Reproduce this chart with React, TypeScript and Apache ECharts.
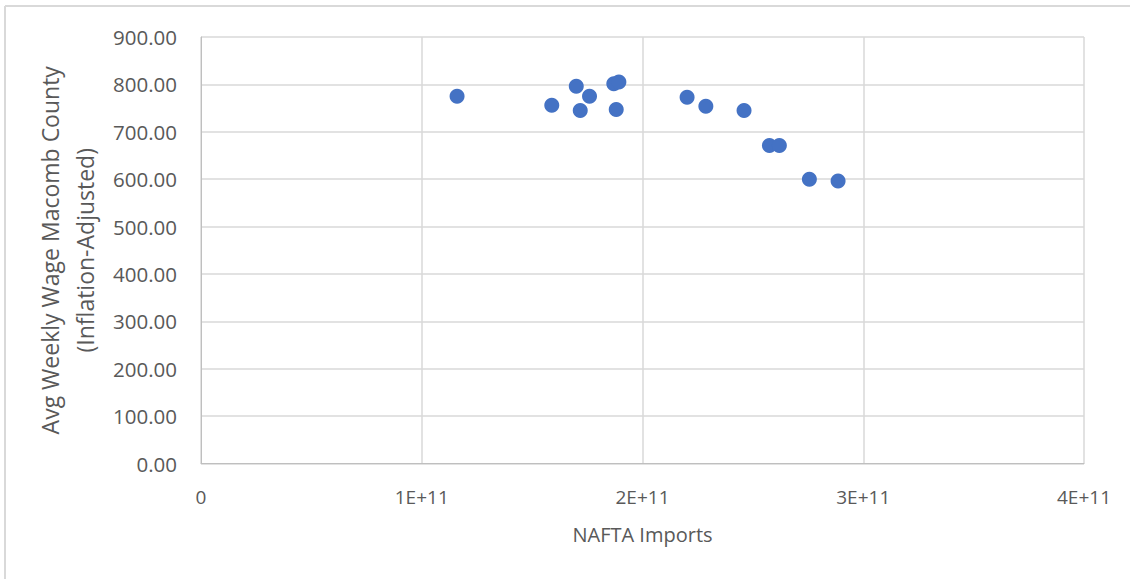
import React, { useEffect, useRef } from "react";
import * as echarts from "echarts";

const naftaImports: number[] = [
  1.16e11, 1.589e11, 1.70e11, 1.718e11, 1.76e11, 1.87e11, 1.893e11, 1.881e11,
  2.202e11, 2.287e11, 2.46e11, 2.575e11, 2.62e11, 2.756e11, 2.886e11,
];
const weeklyWage: number[] = [
  775, 756, 796, 745, 775, 801.6, 805, 747,
  773, 754, 745, 671, 671, 600, 596,
];
const xTickLabels: Record<string, string> = {
  "0": "0",
  "100000000000": "1E+11",
  "200000000000": "2E+11",
  "300000000000": "3E+11",
  "400000000000": "4E+11",
};

export default function App() {
  const ref = useRef<HTMLDivElement>(null);
  useEffect(() => {
    if (!ref.current) return;
    const chart = echarts.init(ref.current, null, { renderer: "svg" });
    const font = "'Open Sans', 'Noto Sans', sans-serif";
    chart.setOption({
      animation: false,
      backgroundColor: "#ffffff",
      grid: { left: 201, top: 37, right: 46, bottom: 115.5, containLabel: false },
      graphic: [
        { type: "line", shape: { x1: 5, y1: 6, x2: 1130, y2: 6 }, style: { stroke: "#d9d9d9", lineWidth: 2 } },
        { type: "line", shape: { x1: 5, y1: 6, x2: 5, y2: 579 }, style: { stroke: "#d9d9d9", lineWidth: 2 } },
      ],
      xAxis: {
        type: "value",
        min: 0,
        max: 4e11,
        interval: 1e11,
        name: "NAFTA Imports",
        nameLocation: "middle",
        nameGap: 61,
        nameTextStyle: { fontFamily: font, fontSize: 20, color: "#595959" },
        axisLine: { show: true, lineStyle: { color: "#bfbfbf", width: 1 } },
        axisTick: { show: false },
        axisLabel: {
          fontFamily: font,
          fontSize: 19,
          color: "#595959",
          margin: 24,
          formatter: (v: number) => xTickLabels[String(v)] ?? String(v),
        },
        splitLine: { show: true, lineStyle: { color: "#d9d9d9", width: 1.5 } },
      },
      yAxis: {
        type: "value",
        min: 0,
        max: 900,
        interval: 100,
        name: "Avg Weekly Wage Macomb County\n(Inflation-Adjusted)",
        nameLocation: "middle",
        nameGap: 96,
        nameRotate: 90,
        nameTextStyle: { fontFamily: font, fontSize: 23, color: "#595959", lineHeight: 35 },
        axisLine: { show: true, lineStyle: { color: "#bfbfbf", width: 1 } },
        axisTick: { show: false },
        axisLabel: {
          fontFamily: font,
          fontSize: 20.5,
          color: "#595959",
          margin: 24,
          formatter: (v: number) => v.toFixed(2),
        },
        splitLine: { show: true, lineStyle: { color: "#d9d9d9", width: 1.5 } },
      },
      series: [
        {
          type: "scatter",
          data: naftaImports.map((x, i) => [x, weeklyWage[i]]),
          symbol: "circle",
          symbolSize: 15,
          itemStyle: { color: "#4472C4", opacity: 1 },
        },
      ],
    });
    return () => chart.dispose();
  }, []);
  return (
    <div
      ref={ref}
      style={{ position: "absolute", left: 0, top: 0, width: 1130, height: 579 }}
    />
  );
}
